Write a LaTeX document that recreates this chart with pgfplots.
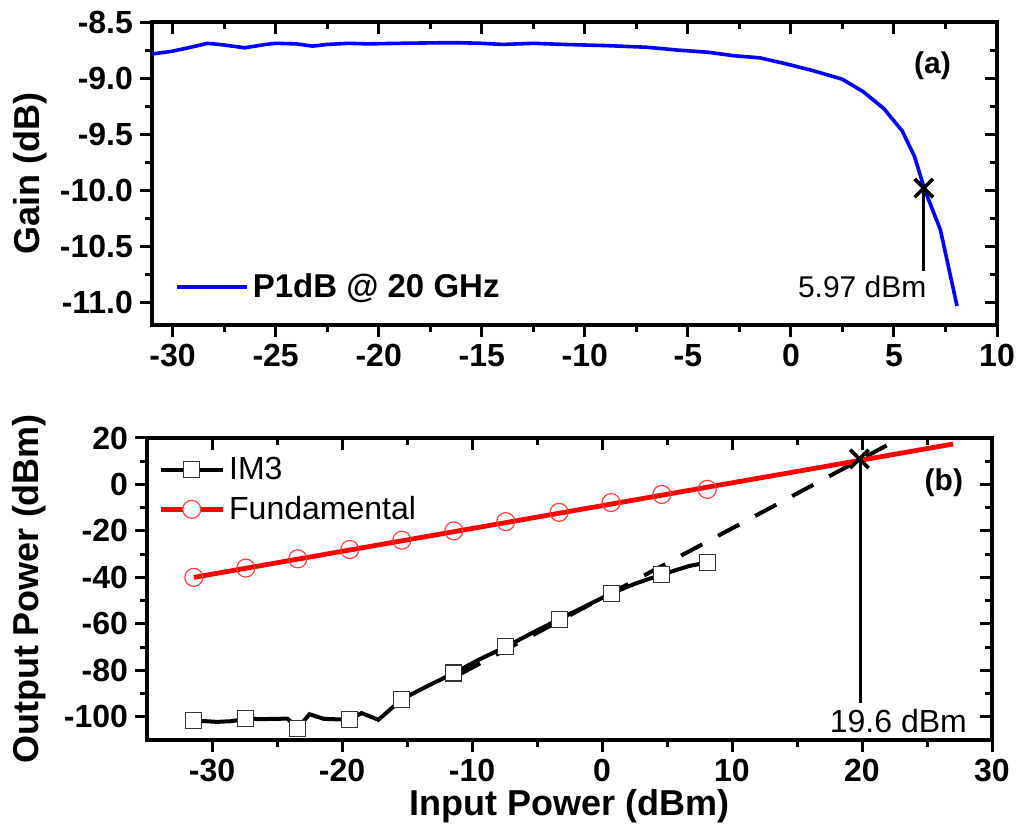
\documentclass[border=0pt]{standalone}
\usepackage{fontspec}
\setmainfont{Liberation Sans}
\usepackage{pgfplots}
\pgfplotsset{compat=1.18}
\definecolor{Pblue}{HTML}{0000FF}
\definecolor{Pred}{HTML}{FF0000}
\definecolor{Pring}{HTML}{FF4040}
\pgfplotsset{
  frame/.style={
    scale only axis,
    width=422.5pt,
    axis line style={line width=2pt,-,line cap=rect},
    major tick length=6pt,
    minor tick length=3.5pt,
    tick style={black,line width=1.5pt},
    tick label style={font=\bfseries\fontsize{16}{19}\selectfont},
    /pgf/number format/assume math mode=true,
    clip=false
  },
  outer/.style={frame,axis x line*=bottom,axis y line*=left,tick align=outside},
  inner/.style={frame,axis x line*=top,axis y line*=right,tick align=inside,
    xticklabels={},yticklabels={}},
  top/.style={at={(76pt,250pt)},anchor=south west,height=151.5pt,
    xmin=-31,xmax=10,ymin=-11.2,ymax=-8.5,
    xtick={-30,-25,...,10},ytick={-11,-10.5,-10,-9.5,-9,-8.5},
    minor x tick num=1,minor y tick num=1},
  bot/.style={at={(73.5pt,42.5pt)},anchor=south west,height=151pt,
    xmin=-35,xmax=30,ymin=-110,ymax=20,
    xtick={-30,-20,...,30},ytick={-100,-80,...,20},
    minor x tick num=1,minor y tick num=1}
}
\begin{document}
\begin{tikzpicture}
\path[use as bounding box] (0,0) rectangle (509pt,412.5pt);

% (a) gain compression
\begin{axis}[outer,top,
  yticklabel style={/pgf/number format/.cd,fixed,fixed zerofill,precision=1},
  ylabel={Gain (dB)},
  ylabel style={font=\bfseries\fontsize{18}{21}\selectfont,at={(axis description cs:-0.144,0.5)},anchor=center},
  legend style={at={(axis description cs:0.027,0.125)},anchor=west,draw=none,fill=none,
    font=\bfseries\fontsize{16.5}{19}\selectfont,inner sep=0pt},
  legend image code/.code={\draw[#1] (0pt,0pt) -- (35pt,0pt);}
]
\addplot[Pblue,line width=1.8pt] coordinates {
(-31,-8.785) (-30,-8.76) (-29,-8.72) (-28.3,-8.69) (-27.5,-8.705) (-26.5,-8.73)
(-25.5,-8.70) (-25,-8.69) (-24,-8.695) (-23.2,-8.715) (-22.5,-8.70) (-21.5,-8.69)
(-20.5,-8.695) (-19,-8.69) (-17,-8.685) (-16,-8.685) (-15,-8.69) (-14,-8.70)
(-12.5,-8.69) (-11,-8.70) (-9,-8.71) (-7,-8.725) (-5.5,-8.75) (-4,-8.77)
(-2.8,-8.80) (-1.5,-8.82) (-0.3,-8.87) (1,-8.93) (2.5,-9.01) (3.5,-9.12)
(4.5,-9.27) (5.4,-9.47) (6.0,-9.70) (6.5,-10.0) (7.25,-10.35) (8.06,-11.03)};
\addlegendentry{P1dB @ 20 GHz}
\addplot[black,line width=1.5pt,forget plot] coordinates {(6.45,-9.98) (6.45,-10.72)};
\addplot[black,only marks,mark=x,mark size=6.5pt,line width=1.8pt,forget plot] coordinates {(6.45,-9.98)};
\node[font=\fontsize{15}{18}\selectfont] at (axis cs:3.46,-10.855) {5.97 dBm};
\node[font=\bfseries\fontsize{15}{18}\selectfont] at (axis cs:6.87,-8.89) {(a)};
\end{axis}
\begin{axis}[inner,top]
\end{axis}

% (b) two-tone intercept
\begin{axis}[outer,bot,
  xlabel={Input Power (dBm)},
  xlabel style={font=\bfseries\fontsize{18}{21}\selectfont,at={(axis description cs:0.5,-0.218)},anchor=center},
  ylabel={Output Power (dBm)},
  ylabel style={font=\bfseries\fontsize{18}{21}\selectfont,at={(axis description cs:-0.14,0.5)},anchor=center},
  legend style={at={(axis description cs:0.013,0.952)},anchor=north west,draw=none,fill=none,
    font=\fontsize{16}{19}\selectfont,inner sep=0pt,row sep=3pt},
  legend cell align=left,
  legend image code/.code={\draw[#1,mark repeat=2,mark phase=2] plot coordinates {(0pt,0pt) (15.5pt,0pt) (31pt,0pt)};}
]
\addplot[black,line width=2pt,forget plot] coordinates {
(-31.4,-101.7) (-30.5,-101.9) (-29.6,-102.2) (-28.5,-101.9) (-27.4,-100.9) (-26.0,-101.0)
(-24.2,-100.8) (-23.4,-104.9) (-22.5,-98.9) (-21.4,-100.9) (-19.4,-101.3) (-18.5,-98.4)
(-17.2,-101.3) (-15.4,-92.5) (-13.5,-87) (-11.4,-81.2) (-9.5,-75.5) (-7.4,-69.9)
(-5.4,-64) (-3.3,-58.0) (-1.3,-52.5) (0.7,-46.9) (2.6,-42.6) (4.6,-38.8) (6.7,-35.1) (8.1,-33.6)};
\addplot[only marks,mark=square*,mark size=4pt,mark options={fill=white,draw=black!80,line width=0.6pt},forget plot] coordinates {
(-31.4,-101.7) (-27.4,-100.9) (-23.4,-104.9) (-19.4,-101.3) (-15.4,-92.5) (-11.4,-81.2)
(-7.4,-69.9) (-3.3,-58.0) (0.7,-46.9) (4.6,-38.8) (8.1,-33.6)};
\addplot[black,line width=2pt,dash pattern=on 12pt off 9pt,forget plot] coordinates {(-11,-81.9) (21.9,16.8)};
\addplot[only marks,mark=o,mark size=4.5pt,mark options={draw=Pring,line width=0.6pt},forget plot] coordinates {
(-31.4,-40) (-27.4,-36) (-23.4,-32) (-19.4,-28) (-15.4,-24) (-11.4,-20)
(-7.4,-16) (-3.3,-12) (0.7,-7.8) (4.6,-4.3) (8.1,-2.1)};
\addplot[Pred,line width=2.4pt,forget plot] coordinates {(-31.4,-40) (27,17.4)};
\addplot[black,line width=1.5pt,forget plot] coordinates {(19.9,11) (19.9,-94)};
\addplot[black,only marks,mark=x,mark size=6.5pt,line width=1.8pt,forget plot] coordinates {(19.8,11)};
\node[font=\fontsize{16}{19}\selectfont] at (axis cs:22.8,-101.9) {19.6 dBm};
\node[font=\bfseries\fontsize{15}{18}\selectfont] at (axis cs:26.3,0.9) {(b)};
\addlegendimage{black,line width=2pt,mark=square*,mark size=4pt,mark options={fill=white,draw=black!80,line width=0.6pt}}
\addlegendentry{IM3}
\addlegendimage{Pred,line width=2.4pt,mark=*,mark size=4.5pt,mark options={fill=white,draw=Pring,line width=0.6pt}}
\addlegendentry{Fundamental}
\end{axis}
\begin{axis}[inner,bot]
\end{axis}
\end{tikzpicture}
\end{document}
